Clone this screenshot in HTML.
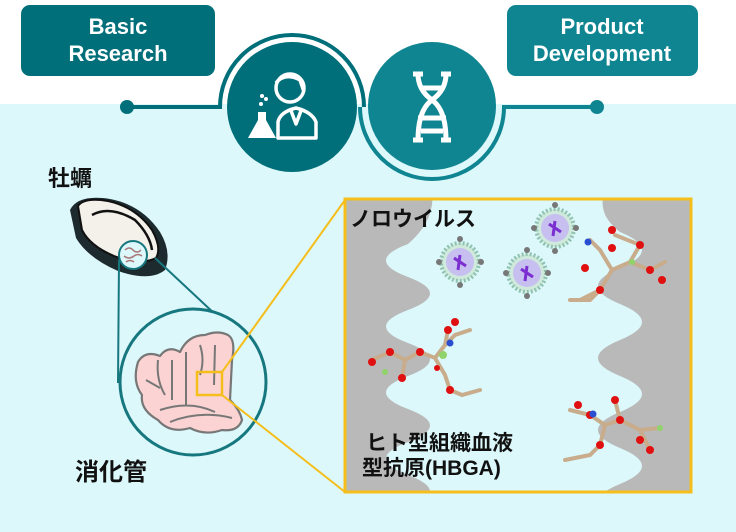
<!DOCTYPE html>
<html><head><meta charset="utf-8"><style>
html,body{margin:0;padding:0;width:736px;height:532px;overflow:hidden;background:#dcf8fb}
svg{display:block}
</style></head><body>
<svg width="736" height="532" viewBox="0 0 736 532" xmlns="http://www.w3.org/2000/svg" font-family="Liberation Sans, Noto Sans CJK JP, sans-serif">
<rect x="0" y="0" width="736" height="104" fill="#ffffff"/>
<rect x="0" y="104" width="736" height="428" fill="#dcf8fb"/>
<rect x="21" y="5" width="194" height="71" rx="9" fill="#006f7a"/>
<text x="118" y="34" fill="#fff" font-size="22" font-weight="bold" text-anchor="middle">Basic</text>
<text x="118" y="61" fill="#fff" font-size="22" font-weight="bold" text-anchor="middle">Research</text>
<rect x="507" y="5" width="191" height="71" rx="9" fill="#0f8592"/>
<text x="602" y="34" fill="#fff" font-size="22" font-weight="bold" text-anchor="middle">Product</text>
<text x="602" y="61" fill="#fff" font-size="22" font-weight="bold" text-anchor="middle">Development</text>
<line x1="127" y1="107" x2="222" y2="107" stroke="#006f7a" stroke-width="4"/>
<circle cx="127" cy="107" r="7" fill="#006f7a"/>
<path d="M220,107 A72,72 0 0 1 364,107" fill="none" stroke="#006f7a" stroke-width="4"/>
<path d="M360,107 A72,72 0 0 0 504,107" fill="none" stroke="#0f8592" stroke-width="4"/>
<line x1="502" y1="107" x2="597" y2="107" stroke="#0f8592" stroke-width="4"/>
<circle cx="597" cy="107" r="7" fill="#0f8592"/>
<circle cx="292" cy="107" r="65" fill="#006f7a"/>
<circle cx="432" cy="106" r="64" fill="#0f8592"/>
<g fill="none" stroke="#fff" stroke-width="3.5" stroke-linejoin="round">
<circle cx="290" cy="88" r="14"/>
<path d="M276,83 Q285,72 300,80 L304,92" />
<path d="M278,138 L278,122 Q280,112 296,108 Q312,112 316,122 L316,138 Z"/>
<path d="M290,108 L296,124 L302,108"/>
</g>
<path d="M258,112 L266,112 L266,120 L276,138 L248,138 L258,120 Z" fill="#fff"/>
<circle cx="261" cy="104" r="2" fill="#fff"/><circle cx="266" cy="99" r="2" fill="#fff"/><circle cx="262" cy="96" r="2" fill="#fff"/>
<g fill="none" stroke="#fff" stroke-width="5">
<path d="M418,74 Q418,90 432,100 Q446,110 446,140"/>
<path d="M446,74 Q446,90 432,100 Q418,110 418,140"/>
<path d="M418,118 L446,118 M421,88 L443,88 M421,131 L443,131 M413,74 L423,74 M441,74 L451,74 M413,140 L423,140 M441,140 L451,140"/>
</g>
<text x="48" y="186" font-size="22" font-weight="bold" fill="#111">牡蠣</text>
<text x="75" y="480" font-size="24" font-weight="bold" fill="#111">消化管</text>
<path d="M70,210 Q78,194 110,199 Q142,205 160,232 Q172,252 165,270 Q150,282 118,271 Q88,258 76,238 Z" fill="#1d2a2e"/>
<path d="M78,206 Q84,197 108,201 Q136,207 152,230 Q162,248 156,258 Q140,266 114,256 Q90,246 82,230 Z" fill="#f3f1ea" stroke="#111" stroke-width="2"/>
<path d="M92,215 Q110,205 135,220 Q150,235 152,250" fill="none" stroke="#111" stroke-width="2.5"/>
<line x1="119" y1="260" x2="118" y2="383" stroke="#17777f" stroke-width="2"/>
<line x1="155" y1="258" x2="232" y2="330" stroke="#17777f" stroke-width="2"/>
<circle cx="133" cy="255" r="14" fill="#dcf8fb" stroke="#17777f" stroke-width="2"/>
<path d="M125,250 q4,-4 8,0 q4,4 8,0 M124,256 q5,4 10,0 q4,-3 8,0 M126,262 q4,-3 8,0" stroke="#a77" fill="none" stroke-width="1.5"/>
<circle cx="193" cy="382" r="73" fill="#dcf8fb" stroke="#17777f" stroke-width="3"/>
<g fill="#fbd3d3" stroke="#777" stroke-width="2.2" stroke-linejoin="round">
<path d="M138,362 Q145,350 160,356 Q168,345 180,352 Q188,335 205,335 Q218,330 228,335 Q236,340 232,360 L230,400 Q240,410 242,420 Q238,432 222,430 Q205,436 190,428 Q170,434 158,420 Q140,410 142,395 Q132,382 138,362 Z"/>
</g>
<g fill="none" stroke="#777" stroke-width="2">
<path d="M158,360 Q156,380 165,395 M172,360 L172,400 M186,352 L186,405 M200,345 Q205,360 200,375 M215,345 L214,385 M160,410 Q190,400 215,412 M170,422 Q200,410 232,418 M146,380 L160,388"/>
</g>
<rect x="197" y="372" width="25" height="23" fill="none" stroke="#f5be1b" stroke-width="2.5"/>
<line x1="222" y1="372" x2="345" y2="200" stroke="#f5be1b" stroke-width="2"/>
<line x1="222" y1="395" x2="345" y2="492" stroke="#f5be1b" stroke-width="2"/>
<clipPath id="cp"><rect x="345" y="199" width="346" height="293"/></clipPath>
<rect x="345" y="199" width="346" height="293" fill="#dcf8fb"/>
<g clip-path="url(#cp)" fill="#b9b9b9">
<path d="M340,190 H432 Q436,220 408,244 Q364,260.5 408,277 T408,310 T408,343 T408,376 T408,409 T408,442 T408,475 T408,508 L340,508 Z"/>
<path d="M700,190 L605,190 Q596,214 620,232 Q664,250 620,268 T620,304 T620,340 T620,376 T620,412 T620,448 T620,484 T620,520 L700,520 Z"/>
</g>
<rect x="345" y="199" width="346" height="293" fill="none" stroke="#f5be1b" stroke-width="3"/>
<text x="350" y="226" font-size="21" font-weight="bold" fill="#111">ノロウイルス</text>
<text x="366" y="450" font-size="21" font-weight="bold" fill="#111">ヒト型組織血液</text>
<text x="362" y="475" font-size="21" font-weight="bold" fill="#111">型抗原(HBGA)</text>
<g>
<circle cx="460" cy="262" r="19" fill="#cfe9dc" stroke="#8fc3b0" stroke-width="4" stroke-dasharray="2 2"/>
<circle cx="460" cy="262" r="14" fill="#c6bff0"/>
<path d="M454,258 L466,266 M460,255 L458,270" stroke="#7b2fd0" stroke-width="3"/>
<circle cx="555" cy="228" r="19" fill="#cfe9dc" stroke="#8fc3b0" stroke-width="4" stroke-dasharray="2 2"/>
<circle cx="555" cy="228" r="14" fill="#c6bff0"/>
<path d="M549,224 L561,232 M555,221 L553,236" stroke="#7b2fd0" stroke-width="3"/>
<circle cx="527" cy="273" r="19" fill="#cfe9dc" stroke="#8fc3b0" stroke-width="4" stroke-dasharray="2 2"/>
<circle cx="527" cy="273" r="14" fill="#c6bff0"/>
<path d="M521,269 L533,277 M527,266 L525,281" stroke="#7b2fd0" stroke-width="3"/>
</g>
<g fill="#777">
<circle cx="460" cy="239" r="3"/><circle cx="481" cy="262" r="3"/><circle cx="439" cy="262" r="3"/><circle cx="460" cy="285" r="3"/>
<circle cx="555" cy="205" r="3"/><circle cx="576" cy="228" r="3"/><circle cx="534" cy="228" r="3"/><circle cx="555" cy="251" r="3"/>
<circle cx="527" cy="250" r="3"/><circle cx="548" cy="273" r="3"/><circle cx="506" cy="273" r="3"/><circle cx="527" cy="296" r="3"/>
</g>
<g stroke="#c8ac8c" stroke-width="4" fill="none" stroke-linecap="round">
<path d="M372,360 L390,352 L405,360 L420,352 L435,358 L445,345 L455,335 L470,330 M435,358 L445,375 L450,390 L462,395 L480,390 M405,360 L402,378 M445,345 L448,330"/>
<path d="M580,300 L600,290 L612,270 L630,262 L650,270 L665,262 M612,270 L600,250 L590,240 M600,290 L590,300 L570,300 M630,262 L640,245 L615,235"/>
<path d="M570,410 L590,415 L605,425 L620,420 L640,430 L660,428 M605,425 L600,445 L590,455 L565,460 M620,420 L615,400 M640,430 L650,450"/>
</g>
<g fill="#e01010">
<circle cx="390" cy="352" r="4"/><circle cx="420" cy="352" r="4"/><circle cx="448" cy="330" r="4"/><circle cx="455" cy="322" r="4"/><circle cx="402" cy="378" r="4"/><circle cx="450" cy="390" r="4"/><circle cx="372" cy="362" r="4"/><circle cx="437" cy="368" r="3"/>
<circle cx="600" cy="290" r="4"/><circle cx="612" cy="248" r="4"/><circle cx="640" cy="245" r="4"/><circle cx="650" cy="270" r="4"/><circle cx="585" cy="268" r="4"/><circle cx="612" cy="230" r="4"/><circle cx="662" cy="280" r="4"/>
<circle cx="590" cy="415" r="4"/><circle cx="620" cy="420" r="4"/><circle cx="615" cy="400" r="4"/><circle cx="600" cy="445" r="4"/><circle cx="650" cy="450" r="4"/><circle cx="578" cy="405" r="4"/><circle cx="640" cy="440" r="4"/>
</g>
<g fill="#8fd36a"><circle cx="443" cy="355" r="4"/><circle cx="385" cy="372" r="3"/><circle cx="632" cy="262" r="3"/><circle cx="660" cy="428" r="3"/></g>
<g fill="#2a4ed0"><circle cx="450" cy="343" r="3.5"/><circle cx="588" cy="242" r="3.5"/><circle cx="593" cy="414" r="3.5"/></g>
</svg>
</body></html>
